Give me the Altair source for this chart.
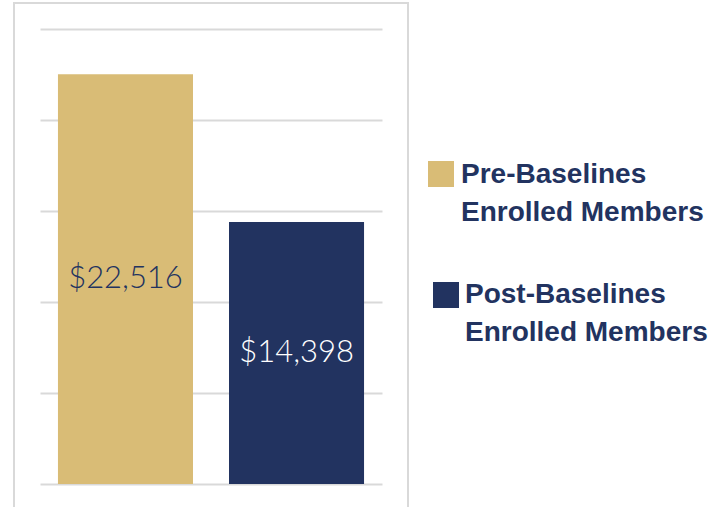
import altair as alt
import pandas as pd

categories = ["Pre-Baselines Enrolled Members", "Post-Baselines Enrolled Members"]
values = [22516, 14398]
colors = ["#d9bc76", "#223360"]
legend_labels = ["Pre-Baselines\nEnrolled Members", "Post-Baselines\nEnrolled Members"]
grid_values = [0, 5000, 10000, 15000, 20000, 25000]

NAVY = "#223360"
GRID = "#d9d9d9"

df = pd.DataFrame({"category": categories, "value": values, "legend": legend_labels})

x_scale = alt.Scale(domain=categories, paddingInner=0.2105, paddingOuter=0.105)
y_scale = alt.Scale(domain=[0, 25000], nice=False)
y_axis = alt.Axis(values=grid_values, grid=True, labels=False, ticks=False,
                  domain=False, title=None, gridColor=GRID, gridWidth=2, gridOpacity=1)

base = alt.Chart(df)

bars = base.mark_bar().encode(
    x=alt.X("category:N", sort=categories, scale=x_scale, axis=None),
    y=alt.Y("value:Q", scale=y_scale, axis=y_axis),
    color=alt.Color("category:N", scale=alt.Scale(domain=categories, range=colors), legend=None),
)

labels = base.transform_calculate(mid="datum.value / 2").mark_text(
    font="Lato", fontWeight=300, fontSize=31, baseline="middle", align="center"
).encode(
    x=alt.X("category:N", sort=categories, scale=x_scale, axis=None),
    y=alt.Y("mid:Q", scale=y_scale, axis=y_axis),
    text=alt.Text("value:Q", format="$,.0f"),
    color=alt.condition(alt.datum.category == categories[0], alt.value(NAVY), alt.value("white")),
)

bar_layer = alt.layer(bars, labels)

box = alt.Chart(pd.DataFrame({"a": [0]})).mark_rect(
    fill=None, stroke=GRID, strokeWidth=2
).encode(x=alt.value(-26), x2=alt.value(368), y=alt.value(-26), y2=alt.value(520))

squares = base.mark_square(size=676, opacity=1, filled=True).encode(
    x=alt.X("legend:N", sort=legend_labels,
            scale=alt.Scale(domain=legend_labels, range=[401, 406], padding=0), axis=None),
    y=alt.Y("legend:N", sort=legend_labels,
            scale=alt.Scale(domain=legend_labels, range=[145, 266], padding=0), axis=None),
    color=alt.Color("legend:N", scale=alt.Scale(domain=legend_labels, range=colors), legend=None),
)

legend_text = base.mark_text(
    font="Liberation Sans", fontWeight="bold", fontSize=28, align="left",
    baseline="alphabetic", lineBreak="\n", lineHeight=37.5, color=NAVY
).encode(
    x=alt.X("legend:N", sort=legend_labels,
            scale=alt.Scale(domain=legend_labels, range=[421, 425], padding=0), axis=None),
    y=alt.Y("legend:N", sort=legend_labels,
            scale=alt.Scale(domain=legend_labels, range=[154, 274], padding=0), axis=None),
    text="legend:N",
)

chart = alt.layer(box, bar_layer, squares, legend_text).resolve_scale(
    x="independent", y="independent", color="independent"
).properties(
    width=342, height=455,
    autosize=alt.AutoSizeParams(type="none"),
    padding={"left": 40, "top": 29, "right": 343, "bottom": 23},
    view=alt.ViewBackground(stroke="transparent", strokeWidth=0),
).configure_view(stroke="transparent", strokeWidth=0).configure(background="white")

chart.save("out.html", embed_options={"renderer": "svg", "actions": False})
